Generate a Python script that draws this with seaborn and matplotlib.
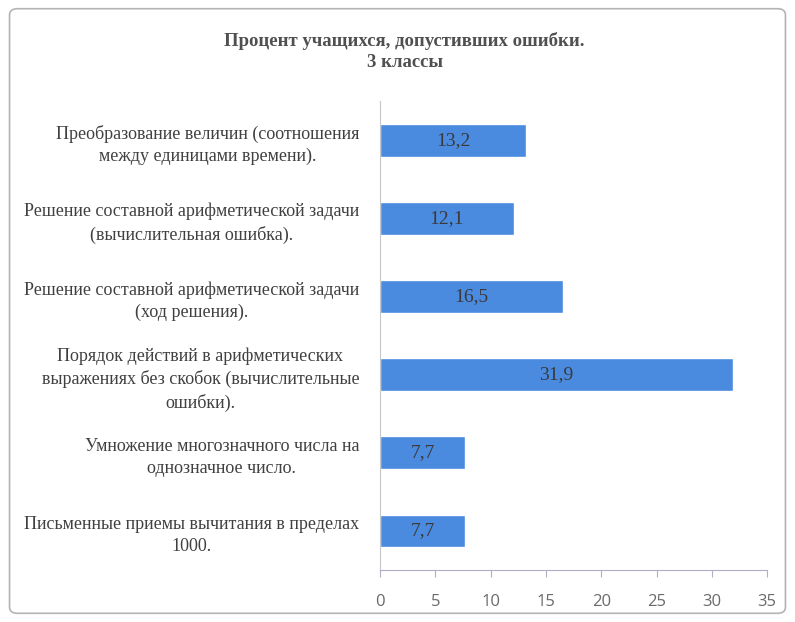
import numpy as np
import pandas as pd
import matplotlib
matplotlib.use("Agg")
import matplotlib.pyplot as plt
import seaborn as sns
from matplotlib.patches import FancyBboxPatch

categories = [
    "Преобразование величин (соотношения\nмежду единицами времени).",
    "Решение составной арифметической задачи\n(вычислительная ошибка).",
    "Решение составной арифметической задачи\n(ход решения).",
    "Порядок действий в арифметических\nвыражениях без скобок (вычислительные\nошибки).",
    "Умножение многозначного числа на\nоднозначное число.",
    "Письменные приемы вычитания в пределах\n1000.",
]
values = [13.2, 12.1, 16.5, 31.9, 7.7, 7.7]
value_labels = ["13,2", "12,1", "16,5", "31,9", "7,7", "7,7"]
xticks = [0, 5, 10, 15, 20, 25, 30, 35]

df = pd.DataFrame({"category": categories, "value": values})

sns.set_style("white")
serif = ["Liberation Serif", "DejaVu Serif"]
text_color = "#404040"
bar_color = "#4a8be0"

fig = plt.figure(figsize=(7.95, 6.22), dpi=100)
ax = fig.add_axes([0.478, 0.0836, 0.487, 0.754])

sns.barplot(data=df, x="value", y="category", orient="h", color=bar_color,
            width=0.42, saturation=1, ax=ax)

for i, (v, lab) in enumerate(zip(values, value_labels)):
    ax.text(v / 2, i, lab, ha="center", va="center", fontsize=14,
            family=serif, color="#3a3a3a")

ax.set_xlim(0, 35)
ax.set_ylim(5.5, -0.5)
ax.set_xticks(xticks)
ax.set_xticklabels([str(t) for t in xticks], fontsize=12, color="#6a6a6a",
                   family=["Open Sans", "DejaVu Sans"])
ax.set_yticks(range(len(categories)))
ax.set_yticklabels(categories, fontsize=13, family=serif, color=text_color,
                   multialignment="center", linespacing=1.4)
ax.tick_params(axis="x", which="both", bottom=True, length=5, color="#b0aec8",
               pad=12)
ax.tick_params(axis="y", length=0, pad=15)
ax.set_xlabel("")
ax.set_ylabel("")
for s in ["top", "right"]:
    ax.spines[s].set_visible(False)
ax.spines["left"].set_color("#c8c8c8")
ax.spines["bottom"].set_color("#b0aec8")

fig.text(0.509, 0.917, "Процент учащихся, допустивших ошибки.\n3 классы",
         ha="center", va="center", fontsize=13.5, fontweight="bold",
         family=serif, color="#505050", linespacing=1.35)

border = FancyBboxPatch((0.012, 0.014), 0.976, 0.972,
                        boxstyle="round,pad=0,rounding_size=0.01",
                        transform=fig.transFigure, fill=False,
                        edgecolor="#b4b4b4", linewidth=1.2)
fig.patches.append(border)

fig.savefig("out.png", dpi=100, facecolor="white")
